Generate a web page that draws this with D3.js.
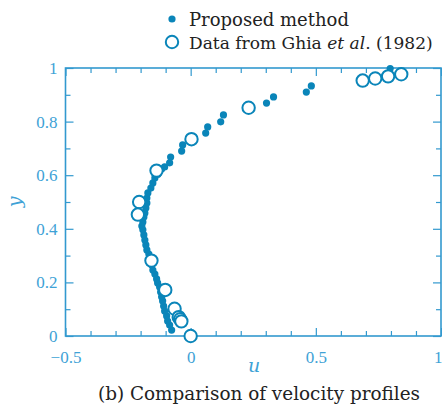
<!DOCTYPE html>
<html><head><meta charset="utf-8">
<script src="https://cdn.jsdelivr.net/npm/d3@7"></script>
<style>html,body{margin:0;padding:0;background:#fff;}svg{display:block;}</style>
</head><body>
<svg id="c" width="442" height="405"></svg>
<script>
// Proposed method (filled dots)
const propU = [-0.076,-0.084,-0.092,-0.096,-0.104,-0.108,-0.112,-0.116,-0.120,-0.124,-0.132,-0.136,-0.143,-0.151,-0.155,-0.163,-0.167,-0.175,-0.179,-0.183,-0.187,-0.191,-0.195,-0.191,-0.187,-0.183,-0.179,-0.175,-0.175,-0.171,-0.159,-0.151,-0.143,-0.131,-0.116,-0.104,-0.084,-0.080,-0.036,-0.032,0.060,0.068,0.120,0.131,0.303,0.331,0.462,0.482,0.797];
const propY = [0.022,0.041,0.056,0.075,0.093,0.112,0.131,0.146,0.164,0.183,0.198,0.213,0.231,0.246,0.265,0.284,0.306,0.321,0.340,0.358,0.377,0.396,0.410,0.425,0.444,0.459,0.478,0.496,0.515,0.534,0.552,0.571,0.590,0.604,0.623,0.631,0.646,0.668,0.690,0.713,0.757,0.780,0.799,0.825,0.869,0.892,0.910,0.933,0.998];
// Ghia et al. (1982) (open circles)
const ghiaU = [0.84123,0.78871,0.73722,0.68717,0.23151,0.00332,-0.13641,-0.20581,-0.21090,-0.15662,-0.10150,-0.06434,-0.04775,-0.04192,-0.03717,0.0];
const ghiaY = [0.9766,0.9688,0.9609,0.9531,0.8516,0.7344,0.6172,0.5000,0.4531,0.2813,0.1719,0.1016,0.0703,0.0625,0.0547,0.0];
const xTicks = [-0.5, 0, 0.5, 1];
const xTickLabels = ["\u22120.5", "0", "0.5", "1"];
const yTicks = [0, 0.2, 0.4, 0.6, 0.8, 1];
const yTickLabels = ["0", "0.2", "0.4", "0.6", "0.8", "1"];
const legendLabels = ["Proposed method", "Data from Ghia et al. (1982)"];
const caption = "(b) Comparison of velocity profiles";

const dotC = "#0a85b9", axisC = "#3299cf", labC = "#3ea2d6", txtC = "#222";
const svg = d3.select("#c");
const L = 65.5, R = 441, T = 68, B = 336;
const x = d3.scaleLinear().domain([-0.5, 1]).range([L, R]);
const y = d3.scaleLinear().domain([0, 1]).range([B, T]);
const font = "'DejaVu Serif', serif";
const tickFont = "'Liberation Serif', serif";

const minorX = d3.range(-0.5, 1.0001, 0.1).map(v => +v.toFixed(2));
const minorY = d3.range(0, 1.0001, 0.1).map(v => +v.toFixed(2));
const isMaj = (v, arr) => arr.some(a => Math.abs(a - v) < 1e-6);

function styleAxis(g) {
  g.select(".domain").remove();
  g.selectAll(".tick line").attr("stroke", axisC).attr("stroke-width", 1.2);
}
// minor ticks (inward)
const bottomMinor = d3.axisBottom(x).tickValues(minorX.filter(v => !isMaj(v, xTicks))).tickSize(-5).tickFormat("");
const topMinor = d3.axisTop(x).tickValues(minorX.filter(v => !isMaj(v, xTicks))).tickSize(-5).tickFormat("");
const leftMinor = d3.axisLeft(y).tickValues(minorY.filter(v => !isMaj(v, yTicks))).tickSize(-5).tickFormat("");
const rightMinor = d3.axisRight(y).tickValues(minorY.filter(v => !isMaj(v, yTicks))).tickSize(-5).tickFormat("");
svg.append("g").attr("transform", `translate(0,${B})`).call(bottomMinor).call(styleAxis);
svg.append("g").attr("transform", `translate(0,${T})`).call(topMinor).call(styleAxis);
svg.append("g").attr("transform", `translate(${L},0)`).call(leftMinor).call(styleAxis);
svg.append("g").attr("transform", `translate(${R},0)`).call(rightMinor).call(styleAxis);
// major ticks
const gxb = svg.append("g").attr("transform", `translate(0,${B})`)
  .call(d3.axisBottom(x).tickValues(xTicks).tickSize(-8).tickPadding(15).tickFormat((d, i) => xTickLabels[i]));
styleAxis(gxb);
gxb.selectAll("text").attr("fill", labC).attr("font-family", tickFont).attr("font-size", 17);
// keep the last label inside the page edge
gxb.selectAll(".tick text").filter(d => d === 1).attr("text-anchor", "end").attr("x", 1);
svg.append("g").attr("transform", `translate(0,${T})`)
  .call(d3.axisTop(x).tickValues(xTicks).tickSize(-8).tickFormat("")).call(styleAxis);
const gyl = svg.append("g").attr("transform", `translate(${L},0)`)
  .call(d3.axisLeft(y).tickValues(yTicks).tickSize(-8).tickPadding(8).tickFormat((d, i) => yTickLabels[i]));
styleAxis(gyl);
gyl.selectAll("text").attr("fill", labC).attr("font-family", tickFont).attr("font-size", 17);
svg.append("g").attr("transform", `translate(${R},0)`)
  .call(d3.axisRight(y).tickValues(yTicks).tickSize(-8).tickFormat("")).call(styleAxis);

// frame
svg.append("rect").attr("x", L).attr("y", T).attr("width", R - L).attr("height", B - T)
  .attr("fill", "none").attr("stroke", axisC).attr("stroke-width", 1.6);

// data
const pts = propU.map((u, i) => ({u, y: propY[i]}));
const gh = ghiaU.map((u, i) => ({u, y: ghiaY[i]}));
svg.append("g").selectAll("circle").data(pts).join("circle")
  .attr("cx", d => x(d.u)).attr("cy", d => y(d.y)).attr("r", 3.6).attr("fill", dotC);
svg.append("g").selectAll("circle").data(gh).join("circle")
  .attr("cx", d => x(d.u)).attr("cy", d => y(d.y)).attr("r", 6.2)
  .attr("fill", "#fff").attr("stroke", dotC).attr("stroke-width", 2);

// axis titles
svg.append("text").attr("x", 254).attr("y", 372).attr("text-anchor", "middle")
  .attr("font-family", font).attr("font-style", "italic").attr("font-size", 19).attr("fill", labC).text("u");
svg.append("text").attr("transform", "translate(21,202) rotate(-90)").attr("text-anchor", "middle")
  .attr("font-family", font).attr("font-style", "italic").attr("font-size", 19).attr("fill", labC).text("y");

// legend
svg.append("circle").attr("cx", 172).attr("cy", 19).attr("r", 3.6).attr("fill", dotC);
svg.append("circle").attr("cx", 172).attr("cy", 42).attr("r", 6.2).attr("fill", "#fff").attr("stroke", dotC).attr("stroke-width", 2);
svg.append("text").attr("x", 189).attr("y", 26).attr("font-family", font).attr("font-size", 18)
  .attr("fill", txtC).text(legendLabels[0]);
// second legend line as separate pieces laid out by measured widths
const parts = [["Data from Ghia\u00a0", "normal"], ["et al", "italic"], [". (1982)", "normal"]];
const els = parts.map(([s, st]) => svg.append("text").attr("y", 49).attr("font-family", font)
  .attr("font-style", st).attr("font-size", 18).attr("fill", txtC).text(s));
let tot = els.reduce((a, e) => a + e.node().getComputedTextLength(), 0);
const fs = 18 * 244 / tot;
let cx = 189;
els.forEach(e => { e.attr("font-size", fs).attr("x", cx); cx += e.node().getComputedTextLength(); });

// caption
svg.append("text").attr("x", 98).attr("y", 400).attr("font-family", font).attr("font-size", 18)
  .attr("textLength", 322).attr("lengthAdjust", "spacingAndGlyphs").attr("fill", txtC).text(caption);
</script>
</body></html>
